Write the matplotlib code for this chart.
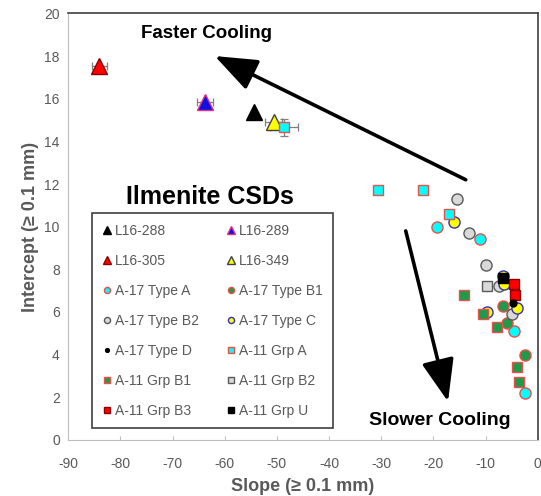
import matplotlib.pyplot as plt

plt.rcParams["font.family"] = ["Liberation Sans", "DejaVu Sans"]
plt.rcParams["axes.unicode_minus"] = False

# L16 samples (triangles)
l16_288_x = [-54.4]
l16_288_y = [15.4]
l16_289_x = [-63.8]
l16_289_y = [15.85]
l16_289_xerr = [1.5]
l16_305_x = [-84.0]
l16_305_y = [17.55]
l16_305_xerr = [1.5]
l16_349_x = [-50.6]
l16_349_y = [14.9]
l16_349_xerr = [1.6]

# A-17 types (circles)
a17_a_x = [-19.3, -11.1, -4.6, -2.5]
a17_a_y = [10.0, 9.4, 5.1, 2.2]
a17_b1_x = [-6.7, -5.9, -2.5]
a17_b1_y = [6.3, 5.5, 4.0]
a17_b2_x = [-15.5, -13.2, -10.0, -7.5, -5.0]
a17_b2_y = [11.3, 9.7, 8.2, 7.2, 5.9]
a17_c_x = [-16.1, -6.7, -6.5, -4.0, -9.8]
a17_c_y = [10.2, 7.7, 7.3, 6.2, 6.0]
a17_d_x = [-4.8]
a17_d_y = [6.4]

# A-11 groups (squares)
a11_a_x = [-48.6, -30.6, -22.0, -17.0]
a11_a_y = [14.65, 11.7, 11.7, 10.6]
a11_a_xerr = [2.7, 0, 0, 0]
a11_a_yerr = [0.4, 0, 0, 0]
a11_b1_x = [-14.2, -10.5, -7.8, -4.0, -3.6]
a11_b1_y = [6.8, 5.9, 5.3, 3.4, 2.7]
a11_b2_x = [-9.8]
a11_b2_y = [7.2]
a11_b3_x = [-4.6, -4.4]
a11_b3_y = [7.3, 6.8]
a11_u_x = [-6.7]
a11_u_y = [7.6]

CYAN = "#00FFFF"
GREEN = "#1E9A4A"
LGRAY = "#D9D9D9"
EDGE_RED = "#E8504A"
TXT = "#595959"


def main():
    fig = plt.figure(figsize=(5.41, 4.96), dpi=100)
    ax = fig.add_axes([0.126, 0.113, 0.868, 0.860])

    err_kw = dict(fmt="none", ecolor="#7F7F7F", elinewidth=0.9, capsize=3, capthick=0.9, zorder=2)
    ax.errorbar(l16_305_x, l16_305_y, xerr=l16_305_xerr, **err_kw)
    ax.errorbar(l16_289_x, l16_289_y, xerr=l16_289_xerr, **err_kw)
    ax.errorbar(l16_349_x, l16_349_y, xerr=l16_349_xerr, **err_kw)
    ax.errorbar(a11_a_x[:1], a11_a_y[:1], xerr=a11_a_xerr[:1], yerr=a11_a_yerr[:1], **err_kw)

    tri = dict(marker="^", markersize=11, linestyle="none", markeredgewidth=1.0, zorder=3)
    circ = dict(marker="o", markersize=8, linestyle="none", markeredgewidth=1.0, zorder=3)
    sq = dict(marker="s", markersize=7.5, linestyle="none", markeredgewidth=1.0, zorder=3)

    ax.plot(l16_288_x, l16_288_y, color="black", markeredgecolor="black", label="L16-288", **tri)
    ax.plot(l16_289_x, l16_289_y, color="#1010E0", markeredgecolor="#E0308A", label="L16-289", **tri)
    ax.plot(l16_305_x, l16_305_y, color="#FF0000", markeredgecolor="#8B0000", label="L16-305", **tri)
    ax.plot(l16_349_x, l16_349_y, color="#FFFF00", markeredgecolor="#404040", label="L16-349", **tri)
    ax.plot(a17_a_x, a17_a_y, color=CYAN, markeredgecolor=EDGE_RED, label="A-17 Type A", **circ)
    ax.plot(a17_b1_x, a17_b1_y, color=GREEN, markeredgecolor=EDGE_RED, label="A-17 Type B1", **circ)
    ax.plot(a17_b2_x, a17_b2_y, color=LGRAY, markeredgecolor="#595959", label="A-17 Type B2", **circ)
    ax.plot(a17_c_x, a17_c_y, color="#FFFF00", markeredgecolor="#3030C0", label="A-17 Type C", **circ)
    ax.plot(a17_d_x, a17_d_y, color="black", markeredgecolor="black", label="A-17 Type D",
            marker="o", markersize=5, linestyle="none", zorder=4)
    ax.plot(a11_a_x, a11_a_y, color=CYAN, markeredgecolor=EDGE_RED, label="A-11 Grp A", **sq)
    ax.plot(a11_b1_x, a11_b1_y, color=GREEN, markeredgecolor=EDGE_RED, label="A-11 Grp B1", **sq)
    ax.plot(a11_b2_x, a11_b2_y, color=LGRAY, markeredgecolor="#595959", label="A-11 Grp B2", **sq)
    ax.plot(a11_b3_x, a11_b3_y, color="#FF0000", markeredgecolor="#8B0000", label="A-11 Grp B3", **sq)
    ax.plot(a11_u_x, a11_u_y, color="black", markeredgecolor="black", label="A-11 Grp U", **sq)

    arrow = dict(arrowstyle="-|>,head_length=2.6,head_width=1.0", color="black", lw=2.6,
                 shrinkA=0, shrinkB=0)
    ax.annotate("", xy=(-61.9, 18.0), xytext=(-13.8, 12.2), arrowprops=arrow)
    ax.annotate("", xy=(-17.2, 1.8), xytext=(-25.3, 9.8), arrowprops=arrow)
    ax.text(-63.4, 19.05, "Faster Cooling", fontsize=13.5, fontweight="bold", ha="center", va="center")
    ax.text(-18.8, 0.9, "Slower Cooling", fontsize=14, fontweight="bold", ha="center", va="center")
    ax.text(-62.8, 11.4, "Ilmenite CSDs", fontsize=18, fontweight="bold", ha="center", va="center")

    ax.set_xlim(-90, 0)
    ax.set_ylim(0, 20)
    ax.set_xticks(range(-90, 1, 10))
    ax.set_yticks(range(0, 21, 2))
    ax.tick_params(colors="#BFBFBF", labelcolor=TXT, labelsize=10, length=3, direction="in")
    ax.tick_params(axis="x", pad=12)
    ax.tick_params(axis="y", length=0, pad=6)
    ax.set_xlabel("Slope (≥ 0.1 mm)", fontsize=13, fontweight="bold", color=TXT, labelpad=5)
    ax.set_ylabel("Intercept (≥ 0.1 mm)", fontsize=13, fontweight="bold", color=TXT)
    for side in ("bottom", "left"):
        ax.spines[side].set_color("#BFBFBF")
    for side in ("top", "right"):
        ax.spines[side].set_color("#404040")
        ax.spines[side].set_linewidth(1.2)

    handles, labels = ax.get_legend_handles_labels()
    order = list(range(0, len(handles), 2)) + list(range(1, len(handles), 2))
    leg = ax.legend([handles[i] for i in order], [labels[i] for i in order], ncol=2,
                    loc="lower left", bbox_to_anchor=(0.051, 0.028, 0.513, 0.5), mode="expand",
                    borderaxespad=0, markerscale=0.55, handlelength=0.7, handletextpad=0.2,
                    labelspacing=1.15, columnspacing=1.0, fontsize=10, fancybox=False,
                    framealpha=1, edgecolor="#404040", borderpad=0.75, labelcolor=TXT)
    leg.get_frame().set_linewidth(1.2)

    fig.savefig("out.png", dpi=100)


if __name__ == "__main__":
    main()
